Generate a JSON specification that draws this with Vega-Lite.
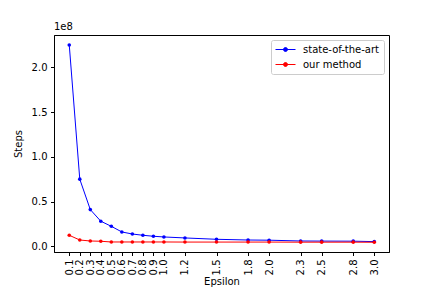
{
  "$schema": "https://vega.github.io/schema/vega-lite/v6.json",
  "autosize": {"type": "none"},
  "width": 335,
  "height": 217,
  "padding": {"left": 54, "top": 35, "right": 43, "bottom": 36},
  "background": "white",
  "title": {"text": "1e8", "anchor": "start", "frame": "group", "offset": 3, "fontSize": 10, "fontWeight": "normal", "font": "DejaVu Sans", "color": "black"},
  "data": {"values": [
    {"eps": 0.1, "steps": 225000000, "method": "state-of-the-art"},
    {"eps": 0.2, "steps": 75000000, "method": "state-of-the-art"},
    {"eps": 0.3, "steps": 41000000, "method": "state-of-the-art"},
    {"eps": 0.4, "steps": 28000000, "method": "state-of-the-art"},
    {"eps": 0.5, "steps": 22300000, "method": "state-of-the-art"},
    {"eps": 0.6, "steps": 16000000, "method": "state-of-the-art"},
    {"eps": 0.7, "steps": 13700000, "method": "state-of-the-art"},
    {"eps": 0.8, "steps": 12300000, "method": "state-of-the-art"},
    {"eps": 0.9, "steps": 11200000, "method": "state-of-the-art"},
    {"eps": 1.0, "steps": 10400000, "method": "state-of-the-art"},
    {"eps": 1.2, "steps": 9300000, "method": "state-of-the-art"},
    {"eps": 1.5, "steps": 7800000, "method": "state-of-the-art"},
    {"eps": 1.8, "steps": 7000000, "method": "state-of-the-art"},
    {"eps": 2.0, "steps": 6800000, "method": "state-of-the-art"},
    {"eps": 2.3, "steps": 5900000, "method": "state-of-the-art"},
    {"eps": 2.5, "steps": 5800000, "method": "state-of-the-art"},
    {"eps": 2.8, "steps": 5700000, "method": "state-of-the-art"},
    {"eps": 3.0, "steps": 5200000, "method": "state-of-the-art"},
    {"eps": 0.1, "steps": 12300000, "method": "our method"},
    {"eps": 0.2, "steps": 7000000, "method": "our method"},
    {"eps": 0.3, "steps": 5900000, "method": "our method"},
    {"eps": 0.4, "steps": 5600000, "method": "our method"},
    {"eps": 0.5, "steps": 4800000, "method": "our method"},
    {"eps": 0.6, "steps": 4800000, "method": "our method"},
    {"eps": 0.7, "steps": 4800000, "method": "our method"},
    {"eps": 0.8, "steps": 4800000, "method": "our method"},
    {"eps": 0.9, "steps": 4800000, "method": "our method"},
    {"eps": 1.0, "steps": 4800000, "method": "our method"},
    {"eps": 1.2, "steps": 4700000, "method": "our method"},
    {"eps": 1.5, "steps": 4700000, "method": "our method"},
    {"eps": 1.8, "steps": 4700000, "method": "our method"},
    {"eps": 2.0, "steps": 4700000, "method": "our method"},
    {"eps": 2.3, "steps": 4600000, "method": "our method"},
    {"eps": 2.5, "steps": 4600000, "method": "our method"},
    {"eps": 2.8, "steps": 4600000, "method": "our method"},
    {"eps": 3.0, "steps": 4500000, "method": "our method"}
  ]},
  "mark": {"type": "line", "strokeWidth": 1, "point": {"filled": true, "size": 13}},
  "encoding": {
    "x": {"field": "eps", "type": "quantitative", "title": "Epsilon",
      "scale": {"domain": [-0.045, 3.14], "nice": false, "zero": false},
      "axis": {"values": [0.1,0.2,0.3,0.4,0.5,0.6,0.7,0.8,0.9,1.0,1.2,1.5,1.8,2.0,2.3,2.5,2.8,3.0], "format": ".1f", "labelAngle": -90, "labelAlign": "right", "labelBaseline": "middle", "titlePadding": 2}},
    "y": {"field": "steps", "type": "quantitative", "title": "Steps",
      "scale": {"domain": [-6400000, 236100000], "nice": false, "zero": false},
      "axis": {"values": [0, 50000000, 100000000, 150000000, 200000000], "labelExpr": "format(datum.value/1e8, '.1f')", "titlePadding": 8}},
    "color": {"field": "method", "type": "nominal", "title": null,
      "scale": {"domain": ["state-of-the-art", "our method"], "range": ["#0000ff", "#ff0000"]},
      "legend": {"orient": "top-right", "offset": 5, "padding": 4,
        "symbolType": "M-2,0H2M-0.4,0A0.4,0.4 0 1,1 0.4,0A0.4,0.4 0 1,1 -0.4,0Z",
        "symbolSize": 100, "symbolStrokeWidth": 1, "symbolOffset": 5, "labelOffset": 12, "rowPadding": 4,
        "strokeColor": "#cccccc", "fillColor": "white", "cornerRadius": 2,
        "encode": {"symbols": {"update": {"fill": {"scale": "color", "field": "value"}}}}}}
  },
  "config": {
    "font": "DejaVu Sans",
    "view": {"stroke": "black", "strokeWidth": 1},
    "legend": {"labelFontSize": 10, "labelFont": "DejaVu Sans", "labelColor": "black", "labelLimit": 300},
    "axis": {"grid": false, "domainColor": "black", "tickColor": "black", "labelColor": "black", "titleColor": "black",
      "labelFont": "DejaVu Sans", "titleFont": "DejaVu Sans", "labelFontSize": 10, "titleFontSize": 10, "titleFontWeight": "normal",
      "tickSize": 3.5, "labelPadding": 3.5}
  }
}
